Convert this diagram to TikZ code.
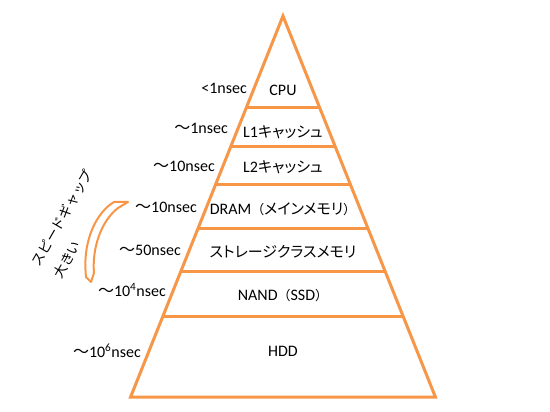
\documentclass[tikz,border=0pt]{standalone}
\usepackage{fontspec}
\setmainfont{Carlito}
\newfontfamily\jp[RawFeature={+palt}]{Noto Sans CJK JP}
\newfontfamily\jpw{Noto Sans CJK JP}
\definecolor{pyorange}{RGB}{247,150,70}
\newcommand{\kana}[1]{{\fontsize{15}{19}\jp #1}}
\newcommand{\paren}[1]{{\fontsize{13}{19}\jpw #1}}
\tikzset{
  tier/.style={font=\fontsize{16}{19}\selectfont, inner sep=0pt},
  lat/.style={font=\fontsize{16}{19}\selectfont, inner sep=0pt, anchor=east},
  layer/.style={pyorange, line width=3pt},
}

\begin{document}
\begin{tikzpicture}[x=1pt,y=-1pt]
\useasboundingbox (0,0) rectangle (550,412);

% pyramid outline
\coordinate (apex) at (283,16);
\coordinate (bl) at (130.6,397);
\coordinate (br) at (435.4,397);
\draw[layer, line join=miter] (apex) -- (bl) -- (br) -- cycle;

% tier borders
\draw[layer] (246.2,108) -- (319.8,108);
\draw[layer] (230.6,147) -- (335.4,147);
\draw[layer] (215.4,185) -- (350.6,185);
\draw[layer] (197.8,229) -- (368.2,229);
\draw[layer] (181,271) -- (385,271);
\draw[layer] (163,316) -- (403,316);

% tier names
\node[tier] (cpu) at (283,90) {CPU};
\node[tier] (l1) at (283,132) {L1\kana{キャッシュ}};
\node[tier] (l2) at (283,167) {L2\kana{キャッシュ}};
\node[tier] (dram) at (283,209) {DRAM\paren{（}\kana{メインメモリ}\paren{）}};
\node[tier] (scm) at (283,252) {\kana{ストレージクラスメモリ}};
\node[tier] (nand) at (283,296) {NAND\paren{（}SSD\paren{）}};
\node[tier] (hdd) at (283,351) {HDD};

% latencies
\node[lat] (tcpu) at (247,88) {<1nsec};
\node[lat] (tl1) at (228,128) {{\jp 〜}1nsec};
\node[lat] (tl2) at (215,166) {{\jp 〜}10nsec};
\node[lat] (tdram) at (197,207) {{\jp 〜}10nsec};
\node[lat] (tscm) at (181,250) {{\jp 〜}50nsec};
\node[lat] (tnand) at (166,290) {{\jp 〜}10\textsuperscript{4}nsec};
\node[lat] (thdd) at (141,351) {{\jp 〜}10\textsuperscript{6}nsec};

% speed gap arrow
\draw[pyorange, line width=2pt, fill=white, line join=round]
  (114,202) .. controls (97,212) and (82,240) .. (86,277) -- (91,282) -- (94,273)
  .. controls (92,250) and (100,222) .. (118,208) -- (128,202) -- cycle;
\node[rotate=60, align=left, inner sep=0pt, font=\fontsize{13.5}{25}\selectfont\jpw] (gap) at (73,224)
  {スピードギャップ\\大きい};
\end{tikzpicture}
\end{document}
